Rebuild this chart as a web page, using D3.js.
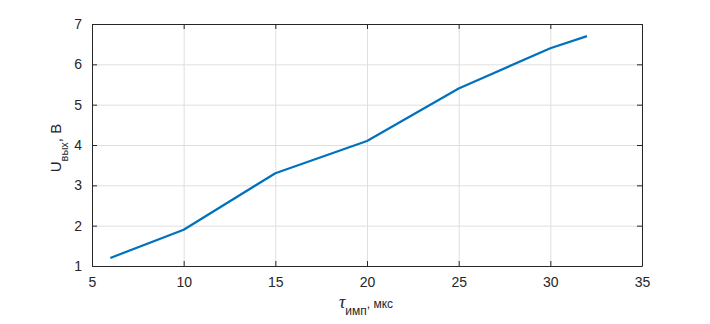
<!DOCTYPE html>
<html>
<head>
<meta charset="utf-8">
<script src="https://cdn.jsdelivr.net/npm/d3@7"></script>
<style>
  body { margin: 0; background: #fff; }
  svg { display: block; font-family: 'Liberation Sans', Arial, sans-serif; }
</style>
</head>
<body>
<svg id="chart" width="710" height="324"></svg>
<script>
// pulse width, mks
const tau = [6, 10, 15, 20, 25, 30, 32];
// output voltage, V
const uOut = [1.2, 1.9, 3.3, 4.1, 5.4, 6.4, 6.7];
const xTicks = [5, 10, 15, 20, 25, 30, 35];
const yTicks = [1, 2, 3, 4, 5, 6, 7];

const svg = d3.select('#chart');
const padding = { top: 24, right: 68, bottom: 58, left: 92 };
const width = 710 - padding.left - padding.right;
const height = 324 - padding.top - padding.bottom;
const textColor = '#262626';

const x = d3.scaleLinear().domain([5, 35]).range([0, width]);
const y = d3.scaleLinear().domain([1, 7]).range([height, 0]);

const canvas = svg.append('g')
  .attr('transform', `translate(${padding.left}, ${padding.top})`);

// grid
canvas.append('g').selectAll('line.gx')
  .data(xTicks.slice(1, -1)).join('line')
  .attr('x1', d => x(d) + 0.5).attr('x2', d => x(d) + 0.5)
  .attr('y1', 0).attr('y2', height)
  .attr('stroke', '#dfdfdf').attr('stroke-width', 1);
canvas.append('g').selectAll('line.gy')
  .data(yTicks.slice(1, -1)).join('line')
  .attr('y1', d => y(d) + 0.5).attr('y2', d => y(d) + 0.5)
  .attr('x1', 0).attr('x2', width)
  .attr('stroke', '#dfdfdf').attr('stroke-width', 1);

// axes, ticks pointing inward like matlab
const tick = 5;
const fmt = d3.format('d');
const axBottom = canvas.append('g').attr('transform', `translate(0, ${height})`)
  .call(d3.axisBottom(x).tickValues(xTicks).tickFormat(fmt).tickSizeInner(-tick).tickSizeOuter(0).tickPadding(10));
const axTop = canvas.append('g')
  .call(d3.axisTop(x).tickValues(xTicks).tickSizeInner(-tick).tickSizeOuter(0).tickFormat(''));
const axLeft = canvas.append('g')
  .call(d3.axisLeft(y).tickValues(yTicks).tickFormat(fmt).tickSizeInner(-tick).tickSizeOuter(0).tickPadding(10));
const axRight = canvas.append('g').attr('transform', `translate(${width}, 0)`)
  .call(d3.axisRight(y).tickValues(yTicks).tickSizeInner(-tick).tickSizeOuter(0).tickFormat(''));

[axBottom, axTop, axLeft, axRight].forEach(g => {
  g.selectAll('path, line').attr('stroke', textColor).attr('stroke-width', 1);
  g.selectAll('text').attr('fill', textColor).attr('font-size', 14)
    .attr('font-family', "'Liberation Sans', Arial, sans-serif");
});
axBottom.selectAll('text').attr('dy', '0.75em');

// data line
canvas.append('path')
  .datum(tau.map((t, i) => [t, uOut[i]]))
  .attr('fill', 'none')
  .attr('stroke', '#0072bd')
  .attr('stroke-width', 2.2)
  .attr('stroke-linejoin', 'round')
  .attr('d', d3.line().x(d => x(d[0])).y(d => y(d[1])));

// x label
const xl = svg.append('text')
  .attr('x', padding.left + width / 2 - 1)
  .attr('y', 308)
  .attr('text-anchor', 'middle')
  .attr('fill', textColor)
  .attr('font-size', 15);
xl.append('tspan').attr('font-style', 'italic').attr('font-family', "'Liberation Serif', serif").attr('font-size', 18).text('τ');
xl.append('tspan').attr('dy', 7).attr('font-size', 12).text('имп');
xl.append('tspan').attr('dy', -7).attr('font-size', 12).text(', мкс');

// y label
const yl = svg.append('text')
  .attr('transform', `translate(61, ${padding.top + height / 2 + 3}) rotate(-90)`)
  .attr('text-anchor', 'middle')
  .attr('fill', textColor)
  .attr('font-size', 15);
yl.append('tspan').text('U');
yl.append('tspan').attr('dy', 7).attr('font-size', 11).text('вых');
yl.append('tspan').attr('dy', -7).text(', В');
</script>
</body>
</html>
